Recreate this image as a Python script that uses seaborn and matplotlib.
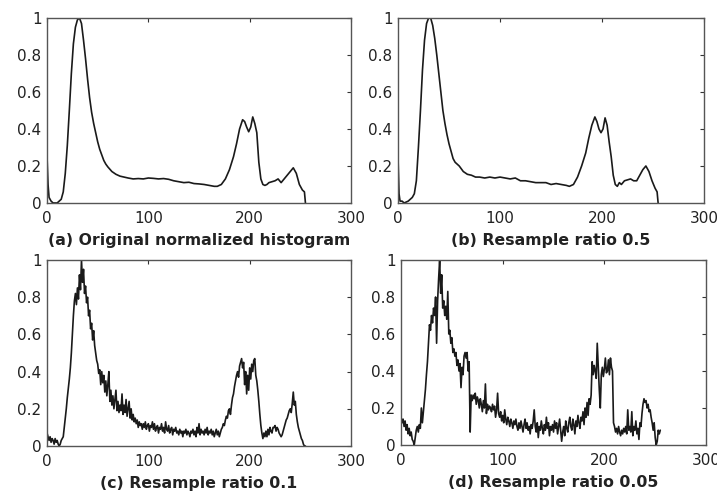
import numpy as np
import pandas as pd
import matplotlib
matplotlib.use("Agg")
import matplotlib.pyplot as plt
import seaborn as sns

# grey levels for the smooth histograms (a) and (b)
x_smooth = [0, 1, 2, 4, 6, 8, 10, 12, 14, 16, 18, 20, 22, 24, 26, 28, 30, 32, 34, 36,
            38, 40, 42, 44, 46, 48, 50, 52, 54, 56, 58, 60, 64, 68, 72, 76, 80, 85, 90, 95,
            100, 105, 110, 115, 120, 125, 130, 135, 140, 145, 150, 155, 160, 165, 168, 172,
            176, 180, 184, 187, 190, 193, 195, 197, 199, 201, 203, 205, 207, 209, 211, 213,
            215, 217, 219, 222, 225, 228, 231, 234, 237, 240, 243, 246, 249, 252, 254, 255]

hist_orig = [0.25, 0.1, 0.03, 0.01, 0.0, 0.0, 0.0, 0.01, 0.02, 0.06, 0.16, 0.31, 0.5, 0.7,
             0.86, 0.95, 0.99, 1.0, 0.97, 0.88, 0.78, 0.67, 0.57, 0.49, 0.43, 0.38, 0.33,
             0.29, 0.26, 0.23, 0.21, 0.195, 0.17, 0.155, 0.145, 0.14, 0.135, 0.13, 0.132,
             0.13, 0.135, 0.133, 0.13, 0.132, 0.128, 0.12, 0.115, 0.11, 0.112, 0.105, 0.103,
             0.1, 0.095, 0.09, 0.09, 0.1, 0.13, 0.18, 0.25, 0.32, 0.4, 0.45, 0.44, 0.41,
             0.385, 0.41, 0.465, 0.43, 0.38, 0.22, 0.13, 0.1, 0.095, 0.1, 0.11, 0.115, 0.12,
             0.13, 0.11, 0.13, 0.15, 0.17, 0.19, 0.16, 0.1, 0.07, 0.06, 0.0]

hist_05 = [0.25, 0.05, 0.01, 0.01, 0.0, 0.005, 0.01, 0.02, 0.03, 0.05, 0.12, 0.3, 0.5, 0.72,
           0.88, 0.97, 1.0, 1.0, 0.96, 0.89, 0.8, 0.7, 0.6, 0.5, 0.43, 0.37, 0.32, 0.28,
           0.24, 0.22, 0.21, 0.2, 0.17, 0.155, 0.15, 0.14, 0.14, 0.135, 0.14, 0.135, 0.14,
           0.135, 0.13, 0.135, 0.12, 0.12, 0.115, 0.11, 0.11, 0.11, 0.1, 0.105, 0.1, 0.095,
           0.09, 0.1, 0.14, 0.2, 0.27, 0.35, 0.42, 0.465, 0.44, 0.4, 0.38, 0.4, 0.46, 0.42,
           0.33, 0.25, 0.15, 0.1, 0.09, 0.11, 0.1, 0.12, 0.125, 0.13, 0.12, 0.12, 0.15,
           0.18, 0.2, 0.17, 0.12, 0.08, 0.06, 0.0]

# noisy histograms (c) and (d), one value per grey level 0..255
grey = np.arange(256)

hist_01 = [
    0.07, 0.05, 0.03, 0.05, 0.02, 0.04, 0.03, 0.01, 0.04, 0.02, 0.03, 0.01, 0.0, 0.01, 0.03, 0.04,
    0.05, 0.1, 0.15, 0.2, 0.26, 0.31, 0.36, 0.42, 0.5, 0.6, 0.7, 0.78, 0.82, 0.76, 0.85, 0.79,
    0.92, 0.84, 1.0, 0.88, 0.95, 0.82, 0.86, 0.77, 0.8, 0.7, 0.73, 0.63, 0.66, 0.57, 0.62, 0.54,
    0.5, 0.46, 0.44, 0.39, 0.41, 0.33, 0.4, 0.34, 0.38, 0.29, 0.35, 0.27, 0.33, 0.4, 0.24, 0.3,
    0.22, 0.27, 0.2, 0.25, 0.3, 0.19, 0.24, 0.18, 0.22, 0.19, 0.28, 0.17, 0.22, 0.18, 0.25, 0.16,
    0.2, 0.24, 0.15, 0.2, 0.14, 0.17, 0.13, 0.15, 0.12, 0.14, 0.1, 0.13, 0.11, 0.12, 0.09, 0.12,
    0.1, 0.13, 0.09, 0.11, 0.12, 0.08, 0.11, 0.1, 0.13, 0.09, 0.12, 0.08, 0.1, 0.11, 0.07, 0.1,
    0.09, 0.12, 0.08, 0.1, 0.07, 0.13, 0.09, 0.08, 0.11, 0.07, 0.09, 0.1, 0.06, 0.09, 0.08, 0.1,
    0.07, 0.08, 0.06, 0.09, 0.07, 0.08, 0.05, 0.08, 0.07, 0.09, 0.06, 0.08, 0.07, 0.05, 0.08, 0.07,
    0.09, 0.06, 0.08, 0.05, 0.1, 0.07, 0.12, 0.06, 0.09, 0.07, 0.08, 0.06, 0.09, 0.07, 0.1, 0.06,
    0.08, 0.07, 0.09, 0.06, 0.08, 0.05, 0.07, 0.09, 0.06, 0.08, 0.05, 0.07, 0.09, 0.1, 0.12, 0.11,
    0.14, 0.16, 0.15, 0.19, 0.2, 0.17, 0.22, 0.26, 0.28, 0.32, 0.35, 0.38, 0.4, 0.37, 0.43, 0.45,
    0.47, 0.42, 0.45, 0.33, 0.4, 0.28, 0.38, 0.3, 0.42, 0.36, 0.44, 0.4, 0.46, 0.47, 0.38, 0.35,
    0.3, 0.24, 0.17, 0.11, 0.07, 0.04, 0.07, 0.05, 0.08, 0.05, 0.09, 0.06, 0.1, 0.08, 0.07, 0.1,
    0.1, 0.11, 0.08, 0.1, 0.09, 0.07, 0.06, 0.05, 0.06, 0.08, 0.1, 0.12, 0.14, 0.15, 0.17, 0.19,
    0.2, 0.18, 0.23, 0.29, 0.22, 0.24, 0.17, 0.13, 0.1, 0.08, 0.06, 0.04, 0.03, 0.01, 0.0, 0.0]

hist_005 = [
    0.15, 0.12, 0.14, 0.1, 0.13, 0.08, 0.11, 0.06, 0.09, 0.05, 0.07, 0.03, 0.02, 0.0, 0.04, 0.08,
    0.1, 0.07, 0.11, 0.09, 0.2, 0.12, 0.18, 0.24, 0.3, 0.38, 0.45, 0.55, 0.65, 0.62, 0.7, 0.66,
    0.74, 0.7, 0.8, 0.55, 0.78, 0.9, 1.0, 0.82, 0.92, 0.74, 0.78, 0.7, 0.75, 0.68, 0.83, 0.6,
    0.62, 0.55, 0.58, 0.5, 0.52, 0.48, 0.5, 0.43, 0.46, 0.4, 0.44, 0.31, 0.42, 0.38, 0.48, 0.5,
    0.47, 0.5, 0.4, 0.45, 0.07, 0.27, 0.24, 0.27, 0.25, 0.28, 0.22, 0.26, 0.24, 0.2, 0.25, 0.22,
    0.18, 0.24, 0.2, 0.33, 0.17, 0.22, 0.19, 0.21, 0.2, 0.18, 0.22, 0.19, 0.21, 0.15, 0.19, 0.28,
    0.17, 0.15, 0.18, 0.13, 0.16, 0.12, 0.19, 0.14, 0.11, 0.15, 0.13, 0.1, 0.14, 0.12, 0.09, 0.13,
    0.11, 0.14, 0.1, 0.08, 0.12, 0.09, 0.13, 0.1, 0.07, 0.11, 0.14, 0.09, 0.12, 0.08, 0.1, 0.06,
    0.11, 0.09, 0.13, 0.19, 0.1, 0.07, 0.12, 0.04, 0.1, 0.08, 0.13, 0.09, 0.06, 0.11, 0.08, 0.15,
    0.09, 0.12, 0.05, 0.1, 0.08, 0.11, 0.07, 0.13, 0.09, 0.12, 0.06, 0.1, 0.14, 0.08, 0.02, 0.07,
    0.1, 0.05, 0.13, 0.09, 0.07, 0.12, 0.15, 0.1, 0.08, 0.14, 0.11, 0.06, 0.13, 0.1, 0.16, 0.12,
    0.09, 0.15, 0.13, 0.18, 0.11, 0.2, 0.15, 0.23, 0.16, 0.25, 0.22, 0.27, 0.45, 0.38, 0.43, 0.4,
    0.36, 0.55, 0.42, 0.3, 0.2, 0.38, 0.42, 0.37, 0.41, 0.47, 0.39, 0.4, 0.46, 0.38, 0.47, 0.42,
    0.4, 0.12, 0.1, 0.07, 0.09, 0.06, 0.1, 0.07, 0.05, 0.08, 0.06, 0.09, 0.07, 0.1, 0.06, 0.19,
    0.08, 0.1, 0.07, 0.18, 0.05, 0.1, 0.08, 0.13, 0.06, 0.09, 0.03, 0.12, 0.1, 0.17, 0.22, 0.25,
    0.23, 0.24, 0.2, 0.22, 0.18, 0.19, 0.15, 0.12, 0.08, 0.12, 0.04, 0.0, 0.02, 0.08, 0.06, 0.08]

titles = ["(a) Original normalized histogram", "(b) Resample ratio 0.5",
          "(c) Resample ratio 0.1", "(d) Resample ratio 0.05"]

sns.set_style("white")
plt.rcParams['font.family'] = ['DejaVu Sans']

fig = plt.figure(figsize=(7.17, 4.91), dpi=100)

# axes boxes in figure fractions (left, bottom, width, height)
boxes = [(0.0656, 0.5866, 0.424, 0.3768),
         (0.5551, 0.5866, 0.4268, 0.3768),
         (0.0656, 0.0916, 0.424, 0.3789),
         (0.5593, 0.0937, 0.4254, 0.3768)]
series = [(x_smooth, hist_orig), (x_smooth, hist_05),
          (grey, hist_01), (grey, hist_005)]

for box, (xs, ys), title in zip(boxes, series, titles):
    ax = fig.add_axes(box)
    df = pd.DataFrame({'level': xs, 'freq': ys})
    sns.lineplot(data=df, x='level', y='freq', ax=ax, color='#1a1a1a',
                 linewidth=1.2, estimator=None)
    ax.set_xlim(0, 300)
    ax.set_ylim(0, 1)
    ax.set_xticks([0, 100, 200, 300])
    ax.set_yticks([0, 0.2, 0.4, 0.6, 0.8, 1.0])
    ax.set_yticklabels(['0', '0.2', '0.4', '0.6', '0.8', '1'])
    ax.tick_params(direction='in', length=3, width=0.8, top=True, right=True,
                   labelsize=11, colors='#333333', labelcolor='#222222')
    ax.tick_params(axis='x', pad=6)
    ax.tick_params(axis='y', pad=4)
    for sp in ax.spines.values():
        sp.set_color('#555555')
        sp.set_linewidth(1.0)
    ax.set_ylabel('')
    ax.set_xlabel(title, fontsize=11.3, fontweight='bold', labelpad=5, color='#222222')

fig.savefig("out.png", dpi=100)
